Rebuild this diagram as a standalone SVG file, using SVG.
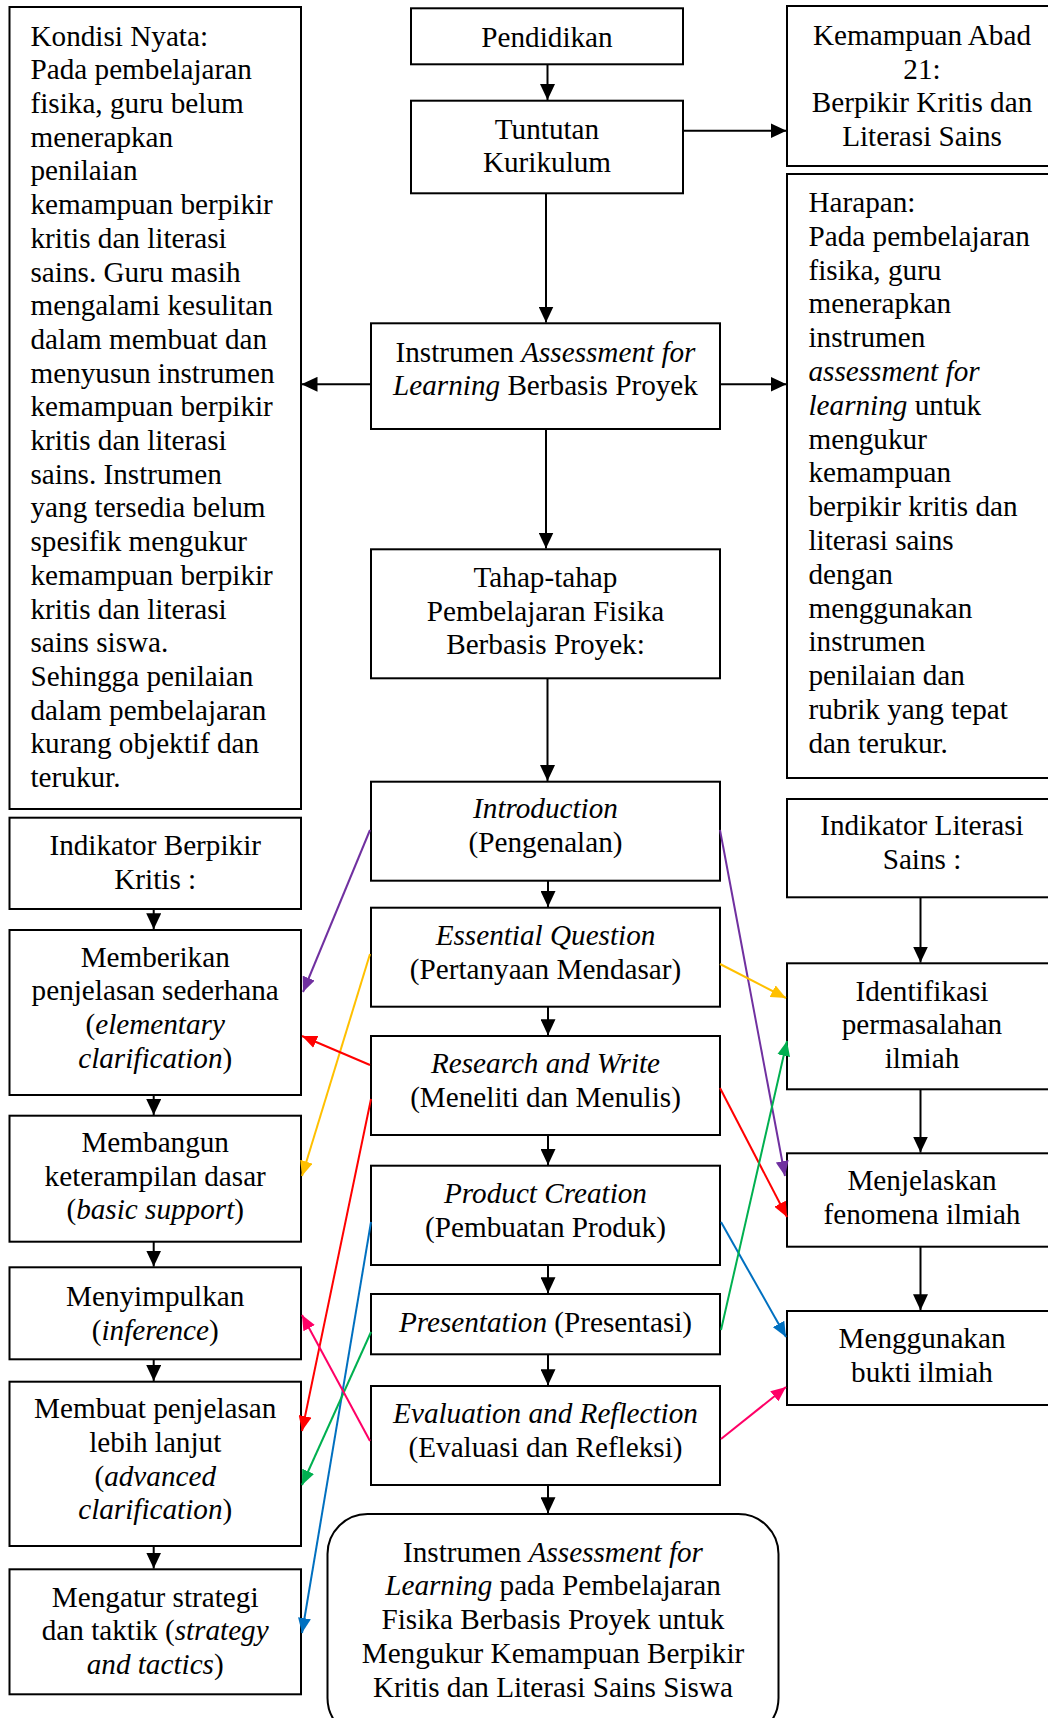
<svg xmlns="http://www.w3.org/2000/svg" width="1048" height="1718" viewBox="0 0 1048 1718">
<style>
  .box{fill:#fff;stroke:#000;stroke-width:2}
  text{font-family:"Liberation Serif","Times New Roman",serif;font-size:29.2px;fill:#000}
  .c{text-anchor:middle}
  .i{font-style:italic}
  .k{stroke:#000;stroke-width:2;fill:none}
  .cl{stroke-width:2;fill:none}
</style>
<defs>
  <marker id="ak" markerUnits="userSpaceOnUse" markerWidth="16" markerHeight="15" refX="16" refY="7.5" orient="auto"><path d="M0,0 L16,7.5 L0,15 z" fill="#000"/></marker>
  <marker id="apu" markerUnits="userSpaceOnUse" markerWidth="15" markerHeight="13" refX="15" refY="6.5" orient="auto"><path d="M0,0 L15,6.5 L0,13 z" fill="#7030A0"/></marker>
  <marker id="aye" markerUnits="userSpaceOnUse" markerWidth="15" markerHeight="13" refX="15" refY="6.5" orient="auto"><path d="M0,0 L15,6.5 L0,13 z" fill="#FFC000"/></marker>
  <marker id="are" markerUnits="userSpaceOnUse" markerWidth="15" markerHeight="13" refX="15" refY="6.5" orient="auto"><path d="M0,0 L15,6.5 L0,13 z" fill="#FF0000"/></marker>
  <marker id="abl" markerUnits="userSpaceOnUse" markerWidth="15" markerHeight="13" refX="15" refY="6.5" orient="auto"><path d="M0,0 L15,6.5 L0,13 z" fill="#0070C0"/></marker>
  <marker id="agr" markerUnits="userSpaceOnUse" markerWidth="15" markerHeight="13" refX="15" refY="6.5" orient="auto"><path d="M0,0 L15,6.5 L0,13 z" fill="#00B050"/></marker>
  <marker id="api" markerUnits="userSpaceOnUse" markerWidth="15" markerHeight="13" refX="15" refY="6.5" orient="auto"><path d="M0,0 L15,6.5 L0,13 z" fill="#FF0066"/></marker>
</defs>
<rect width="1048" height="1718" fill="#fff"/>

<g id="kondisi">
  <rect class="box" x="9.5" y="7" width="291.5" height="802"/>
  <text x="30.5" y="45.6">Kondisi Nyata:</text>
  <text x="30.5" y="79.3">Pada pembelajaran</text>
  <text x="30.5" y="113">fisika, guru belum</text>
  <text x="30.5" y="146.7">menerapkan</text>
  <text x="30.5" y="180.4">penilaian</text>
  <text x="30.5" y="214.1">kemampuan berpikir</text>
  <text x="30.5" y="247.8">kritis dan literasi</text>
  <text x="30.5" y="281.5">sains. Guru masih</text>
  <text x="30.5" y="315.2">mengalami kesulitan</text>
  <text x="30.5" y="348.9">dalam membuat dan</text>
  <text x="30.5" y="382.6">menyusun instrumen</text>
  <text x="30.5" y="416.3">kemampuan berpikir</text>
  <text x="30.5" y="450">kritis dan literasi</text>
  <text x="30.5" y="483.7">sains. Instrumen</text>
  <text x="30.5" y="517.4">yang tersedia belum</text>
  <text x="30.5" y="551.1">spesifik mengukur</text>
  <text x="30.5" y="584.8">kemampuan berpikir</text>
  <text x="30.5" y="618.5">kritis dan literasi</text>
  <text x="30.5" y="652.2">sains siswa.</text>
  <text x="30.5" y="685.9">Sehingga penilaian</text>
  <text x="30.5" y="719.6">dalam pembelajaran</text>
  <text x="30.5" y="753.3">kurang objektif dan</text>
  <text x="30.5" y="787">terukur.</text>
</g>

<g id="pendidikan">
  <rect class="box" x="411" y="8.3" width="272" height="56"/>
  <text class="c" x="547" y="46.5">Pendidikan</text>
</g>

<g id="tuntutan">
  <rect class="box" x="411" y="100.7" width="272" height="92.6"/>
  <text class="c" x="547" y="138.5">Tuntutan</text>
  <text class="c" x="547" y="172.2">Kurikulum</text>
</g>

<g id="kemampuan">
  <rect class="box" x="787" y="6" width="290" height="160"/>
  <text class="c" x="922" y="45">Kemampuan Abad</text>
  <text class="c" x="922" y="78.7">21:</text>
  <text class="c" x="922" y="112.4">Berpikir Kritis dan</text>
  <text class="c" x="922" y="146.1">Literasi Sains</text>
</g>

<g id="harapan">
  <rect class="box" x="787" y="174" width="290" height="604"/>
  <text x="808.5" y="212">Harapan:</text>
  <text x="808.5" y="245.8">Pada pembelajaran</text>
  <text x="808.5" y="279.6">fisika, guru</text>
  <text x="808.5" y="313.4">menerapkan</text>
  <text x="808.5" y="347.2">instrumen</text>
  <text x="808.5" y="381" class="i">assessment for</text>
  <text x="808.5" y="414.8"><tspan class="i">learning</tspan> untuk</text>
  <text x="808.5" y="448.6">mengukur</text>
  <text x="808.5" y="482.4">kemampuan</text>
  <text x="808.5" y="516.2">berpikir kritis dan</text>
  <text x="808.5" y="550">literasi sains</text>
  <text x="808.5" y="583.8">dengan</text>
  <text x="808.5" y="617.6">menggunakan</text>
  <text x="808.5" y="651.4">instrumen</text>
  <text x="808.5" y="685.2">penilaian dan</text>
  <text x="808.5" y="719">rubrik yang tepat</text>
  <text x="808.5" y="752.8">dan terukur.</text>
</g>

<g id="instrumen">
  <rect class="box" x="371" y="323.3" width="349" height="105.7"/>
  <text class="c" x="545.5" y="361.7">Instrumen <tspan class="i">Assessment for</tspan></text>
  <text class="c" x="545.5" y="395.4"><tspan class="i">Learning</tspan> Berbasis Proyek</text>
</g>

<g id="tahap">
  <rect class="box" x="371" y="549.3" width="349" height="129"/>
  <text class="c" x="545.5" y="587">Tahap-tahap</text>
  <text class="c" x="545.5" y="620.7">Pembelajaran Fisika</text>
  <text class="c" x="545.5" y="654.4">Berbasis Proyek:</text>
</g>

<g id="introduction">
  <rect class="box" x="371" y="781.7" width="349" height="99"/>
  <text class="c i" x="545.5" y="818.3">Introduction</text>
  <text class="c" x="545.5" y="852">(Pengenalan)</text>
</g>

<g id="essential">
  <rect class="box" x="371" y="907.7" width="349" height="99"/>
  <text class="c i" x="545.5" y="945">Essential Question</text>
  <text class="c" x="545.5" y="978.7">(Pertanyaan Mendasar)</text>
</g>

<g id="research">
  <rect class="box" x="371" y="1036" width="349" height="99"/>
  <text class="c i" x="545.5" y="1073.3">Research and Write</text>
  <text class="c" x="545.5" y="1107">(Meneliti dan Menulis)</text>
</g>

<g id="product">
  <rect class="box" x="371" y="1165.7" width="349" height="99.3"/>
  <text class="c i" x="545.5" y="1203.3">Product Creation</text>
  <text class="c" x="545.5" y="1237">(Pembuatan Produk)</text>
</g>

<g id="presentation">
  <rect class="box" x="371" y="1294" width="349" height="60.3"/>
  <text class="c" x="545.5" y="1331.7"><tspan class="i">Presentation</tspan> (Presentasi)</text>
</g>

<g id="evaluation">
  <rect class="box" x="371" y="1386" width="349" height="99"/>
  <text class="c i" x="545.5" y="1423.3">Evaluation and Reflection</text>
  <text class="c" x="545.5" y="1457">(Evaluasi dan Refleksi)</text>
</g>

<g id="final">
  <rect class="box" x="327.5" y="1514" width="451" height="224" rx="40" ry="40"/>
  <text class="c" x="553" y="1561.7">Instrumen <tspan class="i">Assessment for</tspan></text>
  <text class="c" x="553" y="1595.4"><tspan class="i">Learning</tspan> pada Pembelajaran</text>
  <text class="c" x="553" y="1629.1">Fisika Berbasis Proyek untuk</text>
  <text class="c" x="553" y="1662.8">Mengukur Kemampuan Berpikir</text>
  <text class="c" x="553" y="1696.5">Kritis dan Literasi Sains Siswa</text>
</g>

<g id="indikator-berpikir">
  <rect class="box" x="9.5" y="817.7" width="291.5" height="91.3"/>
  <text class="c" x="155.2" y="855">Indikator Berpikir</text>
  <text class="c" x="155.2" y="888.7">Kritis :</text>
</g>

<g id="memberikan">
  <rect class="box" x="9.5" y="930" width="291.5" height="165"/>
  <text class="c" x="155.2" y="966.7">Memberikan</text>
  <text class="c" x="155.2" y="1000.4">penjelasan sederhana</text>
  <text class="c" x="155.2" y="1034.1">(<tspan class="i">elementary</tspan></text>
  <text class="c" x="155.2" y="1067.8"><tspan class="i">clarification</tspan>)</text>
</g>

<g id="membangun">
  <rect class="box" x="9.5" y="1115.7" width="291.5" height="126"/>
  <text class="c" x="155.2" y="1152">Membangun</text>
  <text class="c" x="155.2" y="1185.7">keterampilan dasar</text>
  <text class="c" x="155.2" y="1219.4">(<tspan class="i">basic support</tspan>)</text>
</g>

<g id="menyimpulkan">
  <rect class="box" x="9.5" y="1267.3" width="291.5" height="92"/>
  <text class="c" x="155.2" y="1306.4">Menyimpulkan</text>
  <text class="c" x="155.2" y="1340.1">(<tspan class="i">inference</tspan>)</text>
</g>

<g id="membuat">
  <rect class="box" x="9.5" y="1381.7" width="291.5" height="164.3"/>
  <text class="c" x="155.2" y="1418.3">Membuat penjelasan</text>
  <text class="c" x="155.2" y="1452">lebih lanjut</text>
  <text class="c" x="155.2" y="1485.7">(<tspan class="i">advanced</tspan></text>
  <text class="c" x="155.2" y="1519.4"><tspan class="i">clarification</tspan>)</text>
</g>

<g id="mengatur">
  <rect class="box" x="9.5" y="1569.3" width="291.5" height="125"/>
  <text class="c" x="155.2" y="1606.7">Mengatur strategi</text>
  <text class="c" x="155.2" y="1640.4">dan taktik (<tspan class="i">strategy</tspan></text>
  <text class="c" x="155.2" y="1674.1"><tspan class="i">and tactics</tspan>)</text>
</g>

<g id="indikator-literasi">
  <rect class="box" x="787" y="799" width="290" height="98.3"/>
  <text class="c" x="922" y="835">Indikator Literasi</text>
  <text class="c" x="922" y="868.7">Sains :</text>
</g>

<g id="identifikasi">
  <rect class="box" x="787" y="963.3" width="290" height="126"/>
  <text class="c" x="922" y="1000.5">Identifikasi</text>
  <text class="c" x="922" y="1034.2">permasalahan</text>
  <text class="c" x="922" y="1067.9">ilmiah</text>
</g>

<g id="menjelaskan">
  <rect class="box" x="787" y="1153.3" width="290" height="93.4"/>
  <text class="c" x="922" y="1190">Menjelaskan</text>
  <text class="c" x="922" y="1223.7">fenomena ilmiah</text>
</g>

<g id="menggunakan">
  <rect class="box" x="787" y="1311" width="290" height="94"/>
  <text class="c" x="922" y="1348.3">Menggunakan</text>
  <text class="c" x="922" y="1382">bukti ilmiah</text>
</g>

<g id="connectors">
  <line class="k" x1="547.5" y1="64.3" x2="547.5" y2="100" marker-end="url(#ak)"/>
  <line class="k" x1="683" y1="130.7" x2="786.5" y2="130.7" marker-end="url(#ak)"/>
  <line class="k" x1="546" y1="193.3" x2="546" y2="322.5" marker-end="url(#ak)"/>
  <line class="k" x1="371" y1="384.3" x2="301.5" y2="384.3" marker-end="url(#ak)"/>
  <line class="k" x1="720" y1="384.3" x2="786.5" y2="384.3" marker-end="url(#ak)"/>
  <line class="k" x1="546" y1="429" x2="546" y2="548.5" marker-end="url(#ak)"/>
  <line class="k" x1="547.5" y1="678.3" x2="547.5" y2="781" marker-end="url(#ak)"/>
  <line class="k" x1="548" y1="880.7" x2="548" y2="907" marker-end="url(#ak)"/>
  <line class="k" x1="548" y1="1006.7" x2="548" y2="1035.3" marker-end="url(#ak)"/>
  <line class="k" x1="548" y1="1135" x2="548" y2="1165" marker-end="url(#ak)"/>
  <line class="k" x1="548" y1="1265" x2="548" y2="1293.3" marker-end="url(#ak)"/>
  <line class="k" x1="548" y1="1354.3" x2="548" y2="1385.3" marker-end="url(#ak)"/>
  <line class="k" x1="548" y1="1485" x2="548" y2="1513.3" marker-end="url(#ak)"/>
  <line class="k" x1="153.7" y1="909" x2="153.7" y2="929.3" marker-end="url(#ak)"/>
  <line class="k" x1="153.7" y1="1095" x2="153.7" y2="1115" marker-end="url(#ak)"/>
  <line class="k" x1="153.7" y1="1241.7" x2="153.7" y2="1266.6" marker-end="url(#ak)"/>
  <line class="k" x1="153.7" y1="1359.3" x2="153.7" y2="1381" marker-end="url(#ak)"/>
  <line class="k" x1="153.7" y1="1546" x2="153.7" y2="1568.6" marker-end="url(#ak)"/>
  <line class="k" x1="920.5" y1="897.3" x2="920.5" y2="962.6" marker-end="url(#ak)"/>
  <line class="k" x1="920.5" y1="1089.3" x2="920.5" y2="1152.6" marker-end="url(#ak)"/>
  <line class="k" x1="920.5" y1="1246.7" x2="920.5" y2="1310.3" marker-end="url(#ak)"/>

  <line class="cl" stroke="#7030A0" x1="370" y1="830" x2="303" y2="992" marker-end="url(#apu)"/>
  <line class="cl" stroke="#7030A0" x1="720" y1="830" x2="785" y2="1176" marker-end="url(#apu)"/>
  <line class="cl" stroke="#FFC000" x1="370" y1="954" x2="302" y2="1176" marker-end="url(#aye)"/>
  <line class="cl" stroke="#FFC000" x1="720" y1="964" x2="786" y2="998" marker-end="url(#aye)"/>
  <line class="cl" stroke="#FF0000" x1="370" y1="1065" x2="302" y2="1036" marker-end="url(#are)"/>
  <line class="cl" stroke="#FF0000" x1="371" y1="1099" x2="302" y2="1431" marker-end="url(#are)"/>
  <line class="cl" stroke="#FF0000" x1="720" y1="1088" x2="787" y2="1217" marker-end="url(#are)"/>
  <line class="cl" stroke="#0070C0" x1="371" y1="1222" x2="302" y2="1633" marker-end="url(#abl)"/>
  <line class="cl" stroke="#0070C0" x1="721" y1="1222" x2="786" y2="1337" marker-end="url(#abl)"/>
  <line class="cl" stroke="#00B050" x1="721" y1="1330" x2="787" y2="1041" marker-end="url(#agr)"/>
  <line class="cl" stroke="#00B050" x1="371" y1="1332" x2="302" y2="1485" marker-end="url(#agr)"/>
  <line class="cl" stroke="#FF0066" x1="370" y1="1441" x2="302" y2="1315" marker-end="url(#api)"/>
  <line class="cl" stroke="#FF0066" x1="721" y1="1439" x2="786" y2="1387" marker-end="url(#api)"/>
</g>
</svg>
